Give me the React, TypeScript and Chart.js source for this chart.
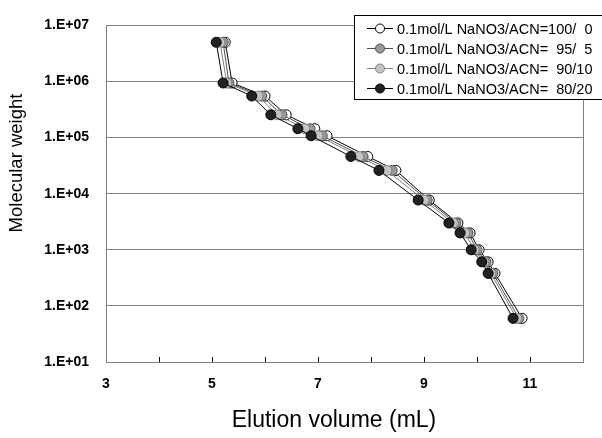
import React, { useEffect, useRef } from "react";
import { Chart, registerables } from "chart.js";

Chart.register(...registerables);

const FONT = "'Liberation Sans', Arial, Helvetica, sans-serif";

// Molecular weight of each standard
const MOLECULAR_WEIGHT = [5.0e6, 9.4e5, 5.5e5, 2.55e5, 1.44e5, 1.08e5, 4.6e4, 2.6e4, 7.7e3, 3.0e3, 2.0e3, 1.0e3, 6.1e2, 3.8e2, 60];

// Elution volumes (mL) per eluent composition
const VOL_100_0 = [5.25, 5.38, 6.0, 6.4, 6.94, 7.17, 7.94, 8.47, 9.1, 9.64, 9.87, 10.04, 10.21, 10.34, 10.85];
const VOL_95_5 = [5.21, 5.32, 5.94, 6.32, 6.85, 7.08, 7.85, 8.4, 9.06, 9.6, 9.83, 10.0, 10.17, 10.3, 10.79];
const VOL_90_10 = [5.15, 5.28, 5.87, 6.23, 6.75, 7.0, 7.77, 8.3, 9.0, 9.55, 9.77, 9.95, 10.13, 10.26, 10.75];
const VOL_80_20 = [5.08, 5.21, 5.75, 6.11, 6.62, 6.87, 7.62, 8.15, 8.89, 9.47, 9.68, 9.89, 10.09, 10.21, 10.68];

const SERIES_LABELS = [
  "0.1mol/L NaNO3/ACN=100/  0",
  "0.1mol/L NaNO3/ACN=  95/  5",
  "0.1mol/L NaNO3/ACN=  90/10",
  "0.1mol/L NaNO3/ACN=  80/20",
];

const X_TICKS = [3, 5, 7, 9, 11];
const X_TICK_LABELS = ["3", "5", "7", "9", "11"];
const X_MINOR_TICKS = [4, 5, 6, 7, 8, 9, 10, 11];
const Y_TICKS = [1e1, 1e2, 1e3, 1e4, 1e5, 1e6, 1e7];
const Y_TICK_LABELS = ["1.E+01", "1.E+02", "1.E+03", "1.E+04", "1.E+05", "1.E+06", "1.E+07"];

const X_TITLE = "Elution volume (mL)";
const Y_TITLE = "Molecular weight";

const toPoints = (xs: number[]) => xs.map((x, i) => ({ x, y: MOLECULAR_WEIGHT[i] }));

const decor = {
  id: "decor",
  beforeDatasetsDraw(chart: any) {
    const { ctx, chartArea: a, scales } = chart;
    ctx.save();
    ctx.strokeStyle = "#808080";
    ctx.lineWidth = 1;
    // right frame
    ctx.beginPath();
    ctx.moveTo(Math.round(a.right) + 0.5, a.top);
    ctx.lineTo(Math.round(a.right) + 0.5, a.bottom);
    ctx.stroke();
    // inner tick marks on x axis
    ctx.strokeStyle = "#000";
    for (const v of X_MINOR_TICKS) {
      const px = Math.round(scales.x.getPixelForValue(v)) + 0.5;
      ctx.beginPath();
      ctx.moveTo(px, a.bottom);
      ctx.lineTo(px, a.bottom - 5);
      ctx.stroke();
    }
    ctx.restore();
  },
  afterDraw(chart: any) {
    const { ctx } = chart;
    ctx.save();
    // axis titles
    ctx.fillStyle = "#000";
    ctx.textAlign = "center";
    ctx.textBaseline = "middle";
    ctx.font = `23px ${FONT}`;
    ctx.fillText(X_TITLE, 334, 421);
    ctx.save();
    ctx.translate(17, 163);
    ctx.rotate(-Math.PI / 2);
    ctx.font = `18.5px ${FONT}`;
    ctx.fillText(Y_TITLE, 0, 0);
    ctx.restore();

    // legend box
    const bx = 354.5, by = 15.5, bw = 260, bh = 84;
    ctx.fillStyle = "#fff";
    ctx.fillRect(bx, by, bw, bh);
    ctx.strokeStyle = "#000";
    ctx.lineWidth = 1;
    ctx.strokeRect(bx, by, bw, bh);
    ctx.font = `14.5px ${FONT}`;
    ctx.textAlign = "left";
    chart.data.datasets.forEach((ds: any, i: number) => {
      const y = 28.5 + i * 20;
      ctx.strokeStyle = ds.borderColor;
      ctx.lineWidth = 1;
      ctx.beginPath();
      ctx.moveTo(367, y);
      ctx.lineTo(393, y);
      ctx.stroke();
      ctx.beginPath();
      ctx.arc(380, y, 4.5, 0, Math.PI * 2);
      ctx.fillStyle = ds.pointBackgroundColor;
      ctx.fill();
      ctx.strokeStyle = ds.pointBorderColor;
      ctx.stroke();
      ctx.fillStyle = "#000";
      ctx.fillText(ds.label, 397, y + 1);
    });
    ctx.restore();
  },
};

export default function App() {
  const ref = useRef<HTMLCanvasElement>(null);
  useEffect(() => {
    const mk = (label: string, xs: number[], line: string, fill: string, border: string, order: number) => ({
      label,
      data: toPoints(xs),
      showLine: true,
      borderColor: line,
      borderWidth: 1,
      pointRadius: 5,
      pointBackgroundColor: fill,
      pointBorderColor: border,
      pointBorderWidth: 1,
      tension: 0,
      order,
    });
    const chart = new Chart(ref.current!, {
      type: "scatter",
      data: {
        datasets: [
          mk(SERIES_LABELS[0], VOL_100_0, "#000000", "#ffffff", "#000000", 3),
          mk(SERIES_LABELS[1], VOL_95_5, "#505050", "#9a9a9a", "#505050", 2),
          mk(SERIES_LABELS[2], VOL_90_10, "#808080", "#c4c4c4", "#808080", 1),
          mk(SERIES_LABELS[3], VOL_80_20, "#000000", "#222222", "#000000", 0),
        ],
      },
      options: {
        animation: false,
        responsive: false,
        devicePixelRatio: 1,
        layout: { padding: { left: 0, right: 19, top: 23, bottom: 0 } },
        plugins: { legend: { display: false }, tooltip: { enabled: false } },
        scales: {
          x: {
            type: "linear",
            min: 3,
            max: 12,
            afterBuildTicks: (s: any) => {
              s.ticks = X_TICKS.map((v) => ({ value: v }));
            },
            afterFit: (s: any) => {
              s.height = 76;
            },
            grid: { display: false, drawTicks: false },
            border: { display: true, color: "#808080", width: 1 },
            ticks: {
              padding: 14,
              color: "#000",
              font: { family: FONT, size: 14, weight: "bold" },
              maxRotation: 0,
              autoSkip: false,
              callback: (_v: any, i: number) => X_TICK_LABELS[i],
            },
          },
          y: {
            type: "logarithmic",
            min: 10,
            max: 1e7,
            afterBuildTicks: (s: any) => {
              s.ticks = Y_TICKS.map((v) => ({ value: v }));
            },
            afterFit: (s: any) => {
              s.width = 106;
            },
            grid: { color: "#808080", lineWidth: 1, drawTicks: false },
            border: { display: true, color: "#808080", width: 1 },
            ticks: {
              padding: 17,
              color: "#000",
              font: { family: FONT, size: 14, weight: "bold" },
              autoSkip: false,
              callback: (_v: any, i: number) => Y_TICK_LABELS[i],
            },
          },
        },
      },
      plugins: [decor],
    } as any);
    return () => chart.destroy();
  }, []);
  return (
    <div style={{ position: "fixed", left: 0, top: 0, width: 602, height: 438, background: "#fff" }}>
      <canvas ref={ref} width={602} height={438} style={{ display: "block" }} />
    </div>
  );
}
